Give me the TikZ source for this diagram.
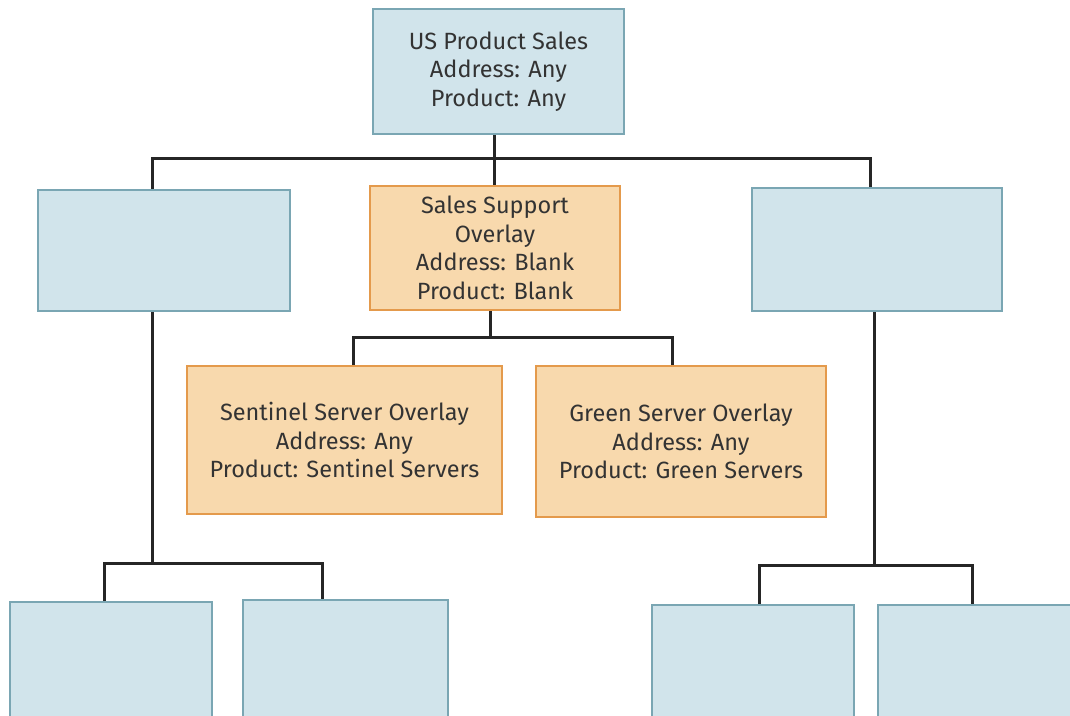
\documentclass[tikz,border=0pt]{standalone}
\usepackage{fontspec}
\setmainfont{Fira Sans}
\usepackage{tikz}
\definecolor{bluefill}{HTML}{D1E4EB}
\definecolor{blueline}{HTML}{7AA6B3}
\definecolor{orangefill}{HTML}{F8D9AD}
\definecolor{orangeline}{HTML}{E49A4C}
\definecolor{linkcolor}{HTML}{262626}
\definecolor{textcolor}{HTML}{333333}
\tikzset{
    bluebox/.style = {draw = blueline, fill = bluefill, line width = 2pt,
        inner sep = 0pt, align = center, text = textcolor},
    orangebox/.style = {draw = orangeline, fill = orangefill, line width = 2pt,
        inner sep = 0pt, align = center, text = textcolor},
    link/.style = {draw = linkcolor, line width = 3pt}
}
\begin{document}
\begin{tikzpicture}[x = 1pt, y = -1pt, 
            font = \fontsize{23.5}{28.5}\selectfont]
            \clip (0, 0) rectangle (1070, 715);
            \fill [white] (0, 0) rectangle (1070, 715);
            \node [bluebox, minimum width = 251pt, minimum height = 125pt] (sales) 
                at (498.5, 71.5) {US Product Sales\\Address: Any\\Product: Any};
            \node [bluebox, minimum width = 252pt, minimum height = 121pt] (leftbranch) 
                at (164, 250.5) {};
            \node [bluebox, minimum width = 250pt, minimum height = 123pt] (rightbranch) 
                at (877, 249.5) {};
            \node [orangebox, minimum width = 250pt, minimum height = 124pt] (support) 
                at (495, 248) {Sales Support\\Overlay\\Address: Blank\\Product: Blank};
            \node [orangebox, minimum width = 315pt, minimum height = 148pt] (sentinel) 
                at (344.5, 440) {Sentinel Server Overlay\\Address: Any\\Product: Sentinel Servers};
            \node [orangebox, minimum width = 290pt, minimum height = 151pt] (green) 
                at (681, 441.5) {Green Server Overlay\\Address: Any\\Product: Green Servers};
            \node [bluebox, minimum width = 202pt, minimum height = 140pt] (leftleafa) 
                at (111, 672) {};
            \node [bluebox, minimum width = 205pt, minimum height = 140pt] (leftleafb) 
                at (345.5, 670) {};
            \node [bluebox, minimum width = 202pt, minimum height = 140pt] (rightleafa) 
                at (753, 675) {};
            \node [bluebox, minimum width = 202pt, minimum height = 140pt] (rightleafb) 
                at (979, 675) {};
            \draw [link] ([xshift = -4.5pt]sales.south) -- ++(0, 23) coordinate (topbus);
            \draw [link] ([xshift = -12pt]leftbranch.north) |- (topbus) 
                -| ([xshift = -7pt]rightbranch.north);
            \draw [link] (topbus) -- ([xshift = -1pt]support.north);
            \draw [link] ([xshift = -5pt]support.south) -- ++(0, 26) coordinate (midbus);
            \draw [link] ([xshift = 8.5pt]sentinel.north) |- (midbus) 
                -| ([xshift = -9pt]green.north);
            \draw [link] ([xshift = -12pt]leftbranch.south) -- ++(0, 251) coordinate (leftbus);
            \draw [link] ([xshift = -7pt]leftleafa.north) |- (leftbus) 
                -| ([xshift = -23.5pt]leftleafb.north);
            \draw [link] ([xshift = -3pt]rightbranch.south) -- ++(0, 253) coordinate (rightbus);
            \draw [link] ([xshift = 6pt]rightleafa.north) |- (rightbus) 
                -| ([xshift = -7pt]rightleafb.north);
        \end{tikzpicture}
\end{document}
